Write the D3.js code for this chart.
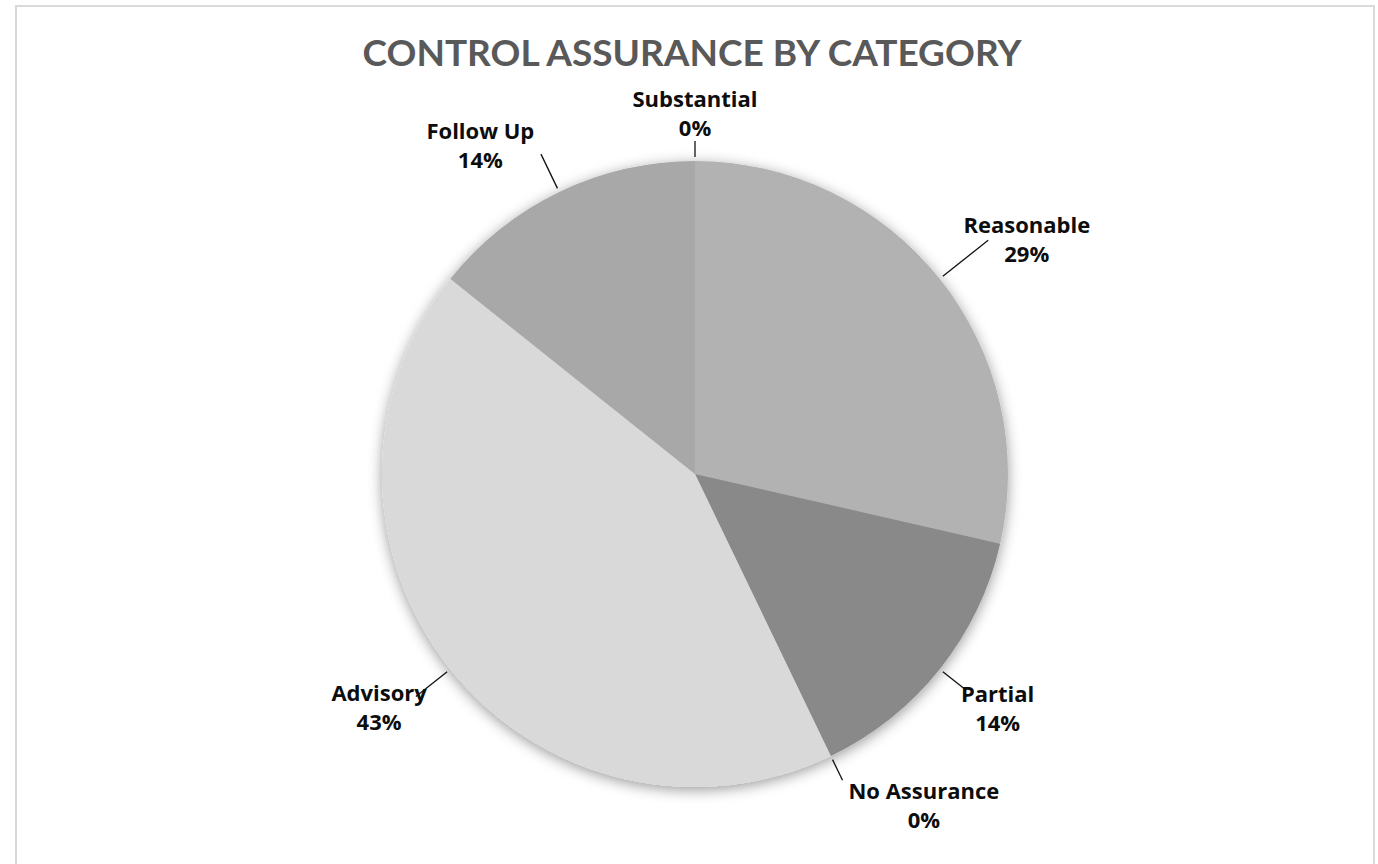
<!DOCTYPE html>
<html>
<head>
<meta charset="utf-8">
<script src="https://cdn.jsdelivr.net/npm/d3@7"></script>
<style>
  html, body { margin: 0; padding: 0; background: #fff; }
  svg { display: block; }
</style>
</head>
<body>
<svg id="chart" width="1378" height="864"></svg>
<script>
// ---- data ----
const categories = ["Substantial", "Reasonable", "Partial", "No Assurance", "Advisory", "Follow Up"];
const counts     = [0, 2, 1, 0, 3, 1];
const sliceColors = ["#9e9e9e", "#b2b2b2", "#898989", "#7a7a7a", "#d9d9d9", "#a8a8a8"];
const chartTitle = "CONTROL ASSURANCE BY CATEGORY";

// ---- label layout (polar offsets in degrees / radii in px, styling only) ----
const labelLayout = {
  "Substantial":  { ang: 0,     rad: 360, leadEnd: 333 },
  "Reasonable":   { ang: 54.8,  rad: 406, leadEnd: 375 },
  "Partial":      { ang: 127.8, rad: 383, leadEnd: 347 },
  "No Assurance": { ang: 145.4, rad: 403, leadEnd: 340 },
  "Advisory":     { ang: 233.5, rad: 393, leadEnd: 357 },
  "Follow Up":    { ang: 326.8, rad: 392, leadEnd: 355 }
};

const W = 1378, H = 864;
const cx = 695, cy = 474, R = 313;
const svg = d3.select("#chart");

// border
svg.append("rect")
  .attr("x", 16).attr("y", 6).attr("width", 1358).attr("height", 870)
  .attr("fill", "#fff").attr("stroke", "#d9d9d9").attr("stroke-width", 2);

// title
svg.append("text")
  .attr("x", 692).attr("y", 66)
  .attr("text-anchor", "middle")
  .attr("font-family", "Lato, 'Open Sans', sans-serif")
  .attr("font-weight", 700)
  .attr("font-size", 37)
  .attr("fill", "#595959")
  .text(chartTitle);

// shadow filter
const defs = svg.append("defs");
const f = defs.append("filter").attr("id", "shadow")
  .attr("x", "-20%").attr("y", "-20%").attr("width", "140%").attr("height", "140%");
f.append("feDropShadow").attr("dx", 0).attr("dy", 3).attr("stdDeviation", 7)
  .attr("flood-color", "#000").attr("flood-opacity", 0.4);

const data = categories.map((c, i) => ({ name: c, value: counts[i], color: sliceColors[i] }));
const total = d3.sum(counts);

const pie = d3.pie().value(d => d.value).sort(null);
const arcs = pie(data);
const arc = d3.arc().innerRadius(0).outerRadius(R);

const g = svg.append("g").attr("transform", `translate(${cx},${cy})`);
g.append("g").attr("filter", "url(#shadow)")
  .selectAll("path").data(arcs).join("path")
  .attr("d", arc)
  .attr("fill", d => d.data.color);

const polar = (deg, r) => {
  const a = deg * Math.PI / 180;
  return [Math.sin(a) * r, -Math.cos(a) * r];
};

// leader lines
g.selectAll("line.leader").data(arcs).join("line")
  .attr("class", "leader")
  .each(function(d) {
    const mid = (d.startAngle + d.endAngle) / 2 * 180 / Math.PI;
    const L = labelLayout[d.data.name];
    const p0 = polar(mid, R + 4);
    const p1 = polar(mid, L.leadEnd);
    d3.select(this).attr("x1", p0[0]).attr("y1", p0[1]).attr("x2", p1[0]).attr("y2", p1[1]);
  })
  .attr("stroke", "#111").attr("stroke-width", 1.3);

// labels
const lab = g.selectAll("g.lab").data(arcs).join("g")
  .attr("class", "lab")
  .attr("transform", d => {
    const L = labelLayout[d.data.name];
    const p = polar(L.ang, L.rad);
    return `translate(${p[0]},${p[1]})`;
  })
  .attr("font-family", "'Open Sans', Lato, sans-serif")
  .attr("font-weight", 700)
  .attr("font-size", 22)
  .attr("fill", "#0d0d0d")
  .attr("text-anchor", "middle");

lab.append("text").attr("y", -14.5).attr("dy", "0.35em").text(d => d.data.name);
lab.append("text").attr("y", 14.5).attr("dy", "0.35em")
  .text(d => Math.round(d.data.value / total * 100) + "%");
</script>
</body>
</html>
